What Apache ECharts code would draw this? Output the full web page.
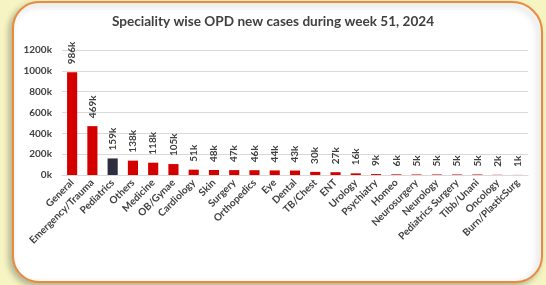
<!DOCTYPE html>
<html>
<head>
<meta charset="utf-8">
<script src="https://cdn.jsdelivr.net/npm/echarts@6/dist/echarts.min.js"></script>
<style>
    html, body { margin: 0; padding: 0; background: #f7f4c4; }
    #chart { width: 546px; height: 285px; }
</style>
</head>
<body>
<div id="chart"></div>
<script>
// specialities on the x axis
const categories = ['General', 'Emergency/Trauma', 'Pediatrics', 'Others', 'Medicine', 'OB/Gynae',
    'Cardiology', 'Skin', 'Surgery', 'Orthopedics', 'Eye', 'Dental', 'TB/Chest', 'ENT', 'Urology',
    'Psychiatry', 'Homeo', 'Neurosurgery', 'Neurology', 'Pediatrics Surgery', 'Tibb/Unani',
    'Oncology', 'Burn/PlasticSurg'];
// new cases, in thousands
const cases = [986, 469, 159, 138, 118, 105, 51, 48, 47, 46, 44, 43, 30, 27, 16, 9, 6, 5, 5, 5, 5, 2, 1];
const yTicks = [0, 200, 400, 600, 800, 1000, 1200];

const red = '#d40000', dark = '#2c2d40', txt = '#404040';

let chart = echarts.init(document.getElementById('chart'));
chart.setOption({
    backgroundColor: '#f7f4c4',
    graphic: [
        {
            type: 'rect',
            z: -10,
            shape: {x: 13, y: 2, width: 529, height: 280, r: [26, 30, 26, 26]},
            style: {
                fill: '#fff',
                stroke: '#e98a3c',
                lineWidth: 2,
                shadowColor: 'rgba(0,0,0,0.25)',
                shadowBlur: 6,
                shadowOffsetX: -3,
                shadowOffsetY: 3
            }
        }
    ],
    title: {
        text: 'Speciality wise OPD new cases during week 51, 2024',
        left: 'center',
        top: 10,
        textStyle: {
            fontFamily: 'Lato',
            fontSize: 13.6,
            fontWeight: 'bold',
            color: txt
        }
    },
    grid: {
        left: 62,
        right: 18,
        top: 50,
        bottom: 110
    },
    xAxis: {
        type: 'category',
        data: categories,
        axisLine: { lineStyle: { color: '#d9d9d9' } },
        axisTick: { show: false },
        axisLabel: {
            rotate: 45,
            interval: 0,
            margin: 6,
            fontFamily: 'Lato',
            fontSize: 10,
            fontWeight: 'bold',
            color: txt
        }
    },
    yAxis: {
        type: 'value',
        min: yTicks[0],
        max: yTicks[yTicks.length - 1],
        interval: 200,
        axisLine: { show: false },
        axisTick: { show: false },
        splitLine: { lineStyle: { color: '#d9d9d9' } },
        axisLabel: {
            margin: 10,
            fontFamily: 'Lato',
            fontSize: 10,
            fontWeight: 'bold',
            color: txt,
            formatter: (v) => v + 'k'
        }
    },
    series: [
        {
            type: 'bar',
            barWidth: '50%',
            data: cases.map((v, i) => ({
                value: v,
                itemStyle: { color: categories[i] == 'Pediatrics' ? dark : red }
            })),
            label: {
                show: true,
                position: 'top',
                rotate: 90,
                align: 'left',
                verticalAlign: 'middle',
                distance: 8,
                fontFamily: 'Lato',
                fontSize: 10,
                fontWeight: 'bold',
                color: txt,
                formatter: (p) => p.value + 'k'
            }
        }
    ]
});
</script>
</body>
</html>
